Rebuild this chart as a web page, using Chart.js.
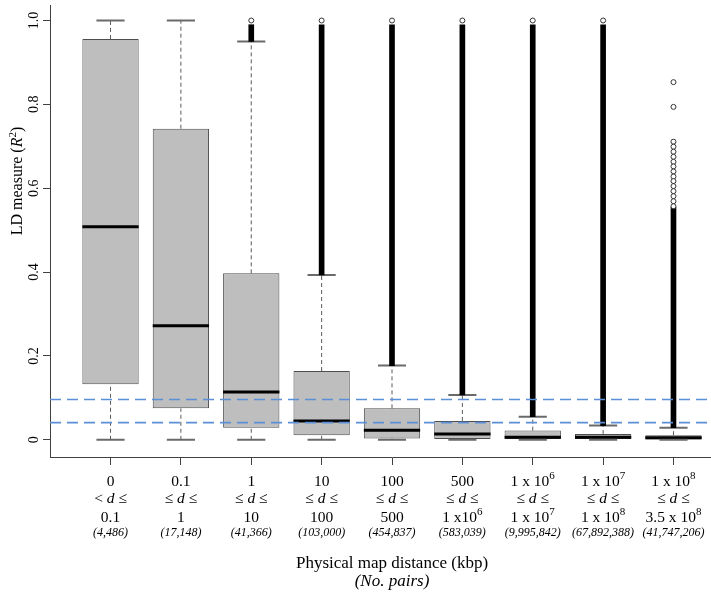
<!DOCTYPE html>
<html>
<head>
<meta charset="utf-8">
<script src="https://cdn.jsdelivr.net/npm/chart.js@4.4.1/dist/chart.umd.min.js"></script>
<style>
  html, body { margin: 0; padding: 0; background: #fff; overflow: hidden; }
  #wrap { position: relative; width: 740px; height: 592px; }
</style>
</head>
<body>
<div id="wrap"><canvas id="chart"></canvas></div>
<script>
// ─── Catégories (distance physique, kbp) ───
const lowerBound = ['0', '0.1', '1', '10', '100', '500', '1 x 10^6', '1 x 10^7', '1 x 10^8'];
const relation   = ['<', '≤', '≤', '≤', '≤', '≤', '≤', '≤', '≤'];
const upperBound = ['0.1', '1', '10', '100', '500', '1 x10^6', '1 x 10^7', '1 x 10^8', '3.5 x 10^8'];
const pairCounts = ['(4,486)', '(17,148)', '(41,366)', '(103,000)', '(454,837)', '(583,039)',
                    '(9,995,842)', '(67,892,388)', '(41,747,206)'];

// ─── Statistiques des boîtes (R²) ───
const whiskerLow  = [0, 0, 0, 0, 0, 0, 0, 0, 0];
const q1          = [0.1325, 0.075, 0.029, 0.0106, 0.003, 0.002, 0.002, 0.002, 0.001];
const median      = [0.508, 0.272, 0.114, 0.045, 0.023, 0.014, 0.006, 0.006, 0.005];
const q3          = [0.956, 0.742, 0.397, 0.164, 0.075, 0.045, 0.022, 0.014, 0.011];
const whiskerHigh = [1.0, 1.0, 0.95, 0.393, 0.177, 0.107, 0.055, 0.034, 0.029];

// valeurs aberrantes : bande continue puis points isolés
const outlierTop = [null, null, 0.99, 0.99, 0.99, 0.99, 0.99, 0.99, 0.555];
const outlierPoints = [
  [], [], [1.0], [1.0], [1.0], [1.0], [1.0], [1.0],
  [0.853, 0.794, 0.711, 0.699, 0.687, 0.675, 0.663, 0.652, 0.640, 0.628,
   0.617, 0.605, 0.593, 0.581, 0.569, 0.557]
];

// seuils (lignes bleues)
const thresholds = [0.096, 0.041];

// axe Y
const yTicks      = [0, 0.2, 0.4, 0.6, 0.8, 1.0];
const yTickLabels = ['0', '0.2', '0.4', '0.6', '0.8', '1.0'];

const X_MIN = 0.14, X_MAX = 9.86;
const SERIF = '"Liberation Serif", "Times New Roman", serif';
const xs = lowerBound.map((_, i) => i + 1);

// segments séparés par des trous (y: null)
function segments(fn) {
  const pts = [];
  xs.forEach((x, i) => {
    const s = fn(x, i);
    if (!s) return;
    pts.push({ x: s[0], y: s[1] }, { x: s[2], y: s[3] }, { x: s[2], y: null });
  });
  return pts;
}

const whiskerData = segments((x, i) => [x, whiskerLow[i], x, q1[i]])
  .concat(segments((x, i) => [x, q3[i], x, whiskerHigh[i]]));
const capData = segments((x, i) => [x - 0.2, whiskerLow[i], x + 0.2, whiskerLow[i]])
  .concat(segments((x, i) => [x - 0.2, whiskerHigh[i], x + 0.2, whiskerHigh[i]]));
const medianData = segments((x, i) => [x - 0.4, median[i], x + 0.4, median[i]]);
const boxData = xs.map((x, i) => ({ x, y: [q1[i], q3[i]] }));
const outlierBarData = xs.filter((x, i) => outlierTop[i] !== null)
  .map(x => ({ x, y: [whiskerHigh[x - 1], outlierTop[x - 1]] }));
const outlierPointData = [];
xs.forEach((x, i) => outlierPoints[i].forEach(v => outlierPointData.push({ x, y: v })));
const thresholdData = [];
thresholds.forEach(t => thresholdData.push({ x: X_MIN, y: t }, { x: X_MAX, y: t }, { x: X_MAX, y: null }));

// ─── Texte à plusieurs styles (exposants, italique) ───
function runsOf(str, size, italic) {
  const parts = str.split('^');
  const runs = [{ t: parts[0], font: `${italic ? 'italic ' : ''}${size}px ${SERIF}`, dy: 0 }];
  if (parts[1]) runs.push({ t: parts[1], font: `${Math.round(size * 0.68)}px ${SERIF}`, dy: -size * 0.42 });
  return runs;
}
function drawRuns(ctx, runs, cx, y) {
  let w = 0;
  runs.forEach(r => { ctx.font = r.font; r.w = ctx.measureText(r.t).width; w += r.w; });
  let x = cx - w / 2;
  runs.forEach(r => { ctx.font = r.font; ctx.fillText(r.t, x, y + r.dy); x += r.w; });
}

const labelPlugin = {
  id: 'labels',
  afterDraw(chart) {
    const { ctx } = chart;
    const xScale = chart.scales.x, yScale = chart.scales.y;
    ctx.save();
    ctx.fillStyle = '#000';
    ctx.textAlign = 'left';
    ctx.textBaseline = 'alphabetic';

    xs.forEach((v, i) => {
      const px = xScale.getPixelForValue(v);
      drawRuns(ctx, runsOf(lowerBound[i], 15.5), px, 486);
      drawRuns(ctx, [
        { t: relation[i] + ' ', font: `15.5px ${SERIF}`, dy: 0 },
        { t: 'd', font: `italic 15.5px ${SERIF}`, dy: 0 },
        { t: ' ≤', font: `15.5px ${SERIF}`, dy: 0 }
      ], px, 503);
      drawRuns(ctx, runsOf(upperBound[i], 15.5), px, 522);
      drawRuns(ctx, runsOf(pairCounts[i], 12, true), px, 536);
    });

    const cx = (xScale.getPixelForValue(X_MIN) + xScale.getPixelForValue(X_MAX)) / 2;
    drawRuns(ctx, [{ t: 'Physical map distance (kbp)', font: `17px ${SERIF}`, dy: 0 }], cx, 568);
    drawRuns(ctx, [{ t: '(No. pairs)', font: `italic 17px ${SERIF}`, dy: 0 }], cx, 586);

    yTicks.forEach((v, i) => {
      const py = yScale.getPixelForValue(v);
      ctx.save();
      ctx.translate(38, py);
      ctx.rotate(-Math.PI / 2);
      drawRuns(ctx, [{ t: yTickLabels[i], font: `14px ${SERIF}`, dy: 0 }], 0, 0);
      ctx.restore();
    });

    ctx.save();
    ctx.translate(22, 181);
    ctx.rotate(-Math.PI / 2);
    drawRuns(ctx, [
      { t: 'LD measure (', font: `16px ${SERIF}`, dy: 0 },
      { t: 'R', font: `italic 16px ${SERIF}`, dy: 0 },
      { t: '2', font: `11px ${SERIF}`, dy: -6 },
      { t: ')', font: `16px ${SERIF}`, dy: 0 }
    ], 0, 0);
    ctx.restore();
    ctx.restore();
  }
};

const lineStyle = { type: 'line', pointRadius: 0, fill: false, tension: 0, spanGaps: false };

new Chart(document.getElementById('chart'), {
  type: 'bar',
  data: {
    datasets: [
      { ...lineStyle, data: whiskerData, borderColor: '#5a5a5a', borderWidth: 1, borderDash: [4, 3], order: 6 },
      { type: 'bar', data: boxData, grouped: false, backgroundColor: '#bebebe', borderColor: '#4d4d4d',
        borderWidth: 1, borderSkipped: false, categoryPercentage: 0.8, barPercentage: 1, order: 5 },
      { ...lineStyle, data: medianData, borderColor: '#000', borderWidth: 3, order: 4 },
      { ...lineStyle, data: capData, borderColor: '#6a6a6a', borderWidth: 2, order: 3 },
      { type: 'bar', data: outlierBarData, grouped: false, backgroundColor: '#000', borderWidth: 0,
        barThickness: 5, order: 2 },
      { ...lineStyle, data: outlierPointData, showLine: false, pointRadius: 2.5, pointStyle: 'circle',
        pointBorderColor: '#333', pointBackgroundColor: '#fff', pointBorderWidth: 1, order: 1 },
      { ...lineStyle, data: thresholdData, borderColor: '#5b8fd6', borderWidth: 1.6, borderDash: [11, 6], order: 0 }
    ]
  },
  options: {
    responsive: true,
    maintainAspectRatio: false,
    animation: false,
    events: [],
    layout: { padding: { top: 0, left: 0, right: 6, bottom: 0 } },
    plugins: { legend: { display: false }, tooltip: { enabled: false } },
    scales: {
      x: {
        type: 'linear', min: X_MIN, max: X_MAX, offset: false,
        grid: { display: true, offset: false, drawOnChartArea: false, drawTicks: true, tickLength: 8, color: '#404040' },
        border: { display: true, color: '#404040', width: 1 },
        ticks: { display: false },
        afterBuildTicks: axis => { axis.ticks = xs.map(v => ({ value: v })); },
        afterFit: axis => { axis.height = 135; }
      },
      y: {
        type: 'linear', min: -0.041, max: 1.037,
        grid: { display: true, drawOnChartArea: false, drawTicks: true, tickLength: 7, color: '#404040' },
        border: { display: true, color: '#404040', width: 1 },
        ticks: { display: false },
        afterBuildTicks: axis => { axis.ticks = yTicks.map(v => ({ value: v })); },
        afterFit: axis => { axis.width = 50; }
      }
    }
  },
  plugins: [labelPlugin]
});
</script>
</body>
</html>
